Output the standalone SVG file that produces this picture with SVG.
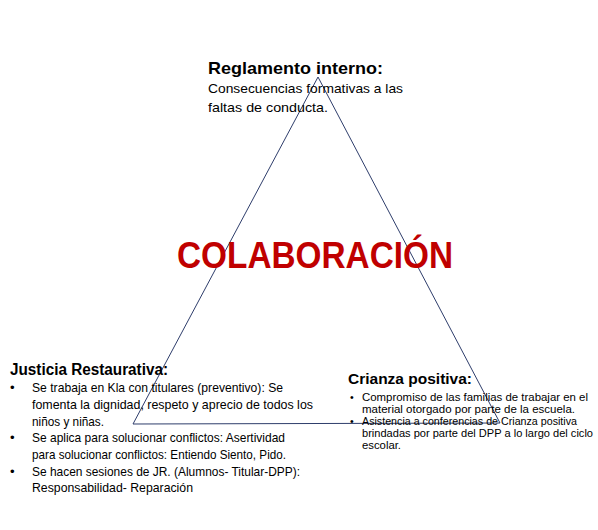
<svg xmlns="http://www.w3.org/2000/svg" width="598" height="530" viewBox="0 0 598 530">
<style>
  text { font-family: "Liberation Sans", Arial, sans-serif; fill: #000; }
  .h { font-weight: bold; }
  .t1 { font-size: 17px; }
  .b1 { font-size: 13.2px; }
  .b2 { font-size: 10.6px; }
  .big { font-size: 36px; font-weight: bold; fill: #c00000; }
  .tri { fill: none; stroke: #2e3d6b; stroke-width: 1; }
</style>
<rect width="598" height="530" fill="#ffffff"/>
<g id="connectors">
  <polygon class="tri" points="318,77 500,423 133,424"/>
</g>
<g id="reglamento">
  <text class="h t1" x="208" y="74" textLength="175" lengthAdjust="spacingAndGlyphs">Reglamento interno:</text>
  <text class="b1" x="208" y="93" textLength="195" lengthAdjust="spacingAndGlyphs">Consecuencias formativas a las</text>
  <text class="b1" x="208" y="112" textLength="120" lengthAdjust="spacingAndGlyphs">faltas de conducta.</text>
</g>
<g id="colaboracion">
  <text class="big" x="177" y="268" textLength="276" lengthAdjust="spacingAndGlyphs">COLABORACIÓN</text>
</g>
<g id="justicia">
  <text class="h t1" x="10" y="375" style="font-size:16px" textLength="158" lengthAdjust="spacingAndGlyphs">Justicia Restaurativa:</text>
  <text class="b1" x="10" y="392">•</text>
  <text class="b1" x="32" y="392" textLength="251" lengthAdjust="spacingAndGlyphs">Se trabaja en Kla con titulares (preventivo): Se</text>
  <text class="b1" x="32" y="409" textLength="281" lengthAdjust="spacingAndGlyphs">fomenta la dignidad, respeto y aprecio de todos los</text>
  <text class="b1" x="32" y="426" textLength="72" lengthAdjust="spacingAndGlyphs">niños y niñas.</text>
  <text class="b1" x="10" y="442">•</text>
  <text class="b1" x="32" y="442" textLength="253" lengthAdjust="spacingAndGlyphs">Se aplica para solucionar conflictos: Asertividad</text>
  <text class="b1" x="32" y="459" textLength="254" lengthAdjust="spacingAndGlyphs">para solucionar conflictos: Entiendo Siento, Pido.</text>
  <text class="b1" x="10" y="476">•</text>
  <text class="b1" x="32" y="476" textLength="268" lengthAdjust="spacingAndGlyphs">Se hacen sesiones de JR. (Alumnos- Titular-DPP):</text>
  <text class="b1" x="32" y="492" textLength="161" lengthAdjust="spacingAndGlyphs">Responsabilidad- Reparación</text>
</g>
<g id="crianza">
  <text class="h t1" x="348" y="384" style="font-size:15.5px" textLength="124" lengthAdjust="spacingAndGlyphs">Crianza positiva:</text>
  <text class="b2" x="350" y="401">•</text>
  <text class="b2" x="362" y="401" textLength="226" lengthAdjust="spacingAndGlyphs">Compromiso de las familias de trabajar en el</text>
  <text class="b2" x="362" y="413" textLength="213" lengthAdjust="spacingAndGlyphs">material otorgado por parte de la escuela.</text>
  <text class="b2" x="350" y="425">•</text>
  <text class="b2" x="362" y="425" textLength="215" lengthAdjust="spacingAndGlyphs">Asistencia a conferencias de Crianza positiva</text>
  <text class="b2" x="362" y="437" textLength="231" lengthAdjust="spacingAndGlyphs">brindadas por parte del DPP a lo largo del ciclo</text>
  <text class="b2" x="362" y="449" textLength="39" lengthAdjust="spacingAndGlyphs">escolar.</text>
</g>
</svg>
